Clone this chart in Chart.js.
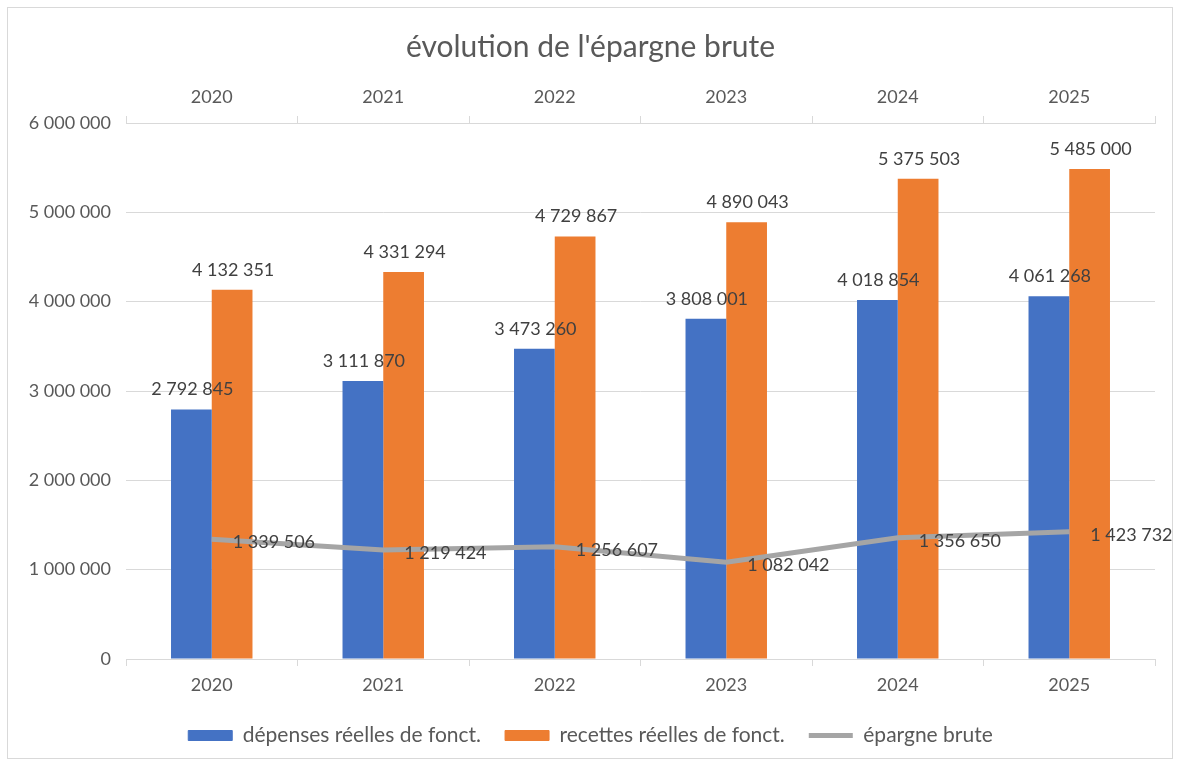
<!DOCTYPE html>
<html>
<head>
<meta charset="utf-8">
<script src="https://cdn.jsdelivr.net/npm/chart.js@4/dist/chart.umd.min.js"></script>
<style>
  html, body { margin: 0; padding: 0; background: #fff; }
  #wrap { width: 1180px; height: 764px; }
</style>
</head>
<body>
<div id="wrap"><canvas id="myChart" width="1180" height="764"></canvas></div>
<script>
// data
const years = ['2020', '2021', '2022', '2023', '2024', '2025'];
const depenses = [2792845, 3111870, 3473260, 3808001, 4018854, 4061268];
const recettes = [4132351, 4331294, 4729867, 4890043, 5375503, 5485000];
const epargne = [1339506, 1219424, 1256607, 1082042, 1356650, 1423732];

const FONT = 'Lato, "Open Sans", sans-serif';
const fmt = (v) => String(Math.round(v)).replace(/\B(?=(\d{3})+(?!\d))/g, ' ');

// white background + thin frame like the Excel chart area
const frame = {
  id: 'frame',
  beforeDraw(chart) {
    const c = chart.ctx;
    c.save();
    c.fillStyle = '#fff';
    c.fillRect(0, 0, chart.width, chart.height);
    c.strokeStyle = '#D9D9D9';
    c.lineWidth = 1;
    c.strokeRect(7.5, 7.5, 1165, 751);
    c.restore();
  }
};

// value labels: above bars, right of line points
const valueLabels = {
  id: 'valueLabels',
  afterDatasetsDraw(chart) {
    const c = chart.ctx;
    c.save();
    c.font = '18px ' + FONT;
    c.fillStyle = '#404040';
    chart.data.datasets.forEach((ds, i) => {
      const meta = chart.getDatasetMeta(i);
      meta.data.forEach((el, j) => {
        const txt = fmt(ds.data[j]);
        c.textBaseline = 'middle';
        if (ds.type === 'line') {
          c.textAlign = 'left';
          c.fillText(txt, el.x + 21, el.y + 3);
        } else {
          c.textAlign = 'center';
          c.fillText(txt, el.x + 1, el.y - 20);
        }
      });
    });
    c.restore();
  }
};

const ctx = document.getElementById('myChart').getContext('2d');
const myChart = new Chart(ctx, {
  data: {
    labels: years,
    datasets: [
      {
        type: 'bar',
        label: 'dépenses réelles de fonct.',
        data: depenses,
        backgroundColor: '#4472C4',
        order: 1
      },
      {
        type: 'bar',
        label: 'recettes réelles de fonct.',
        data: recettes,
        backgroundColor: '#ED7D31',
        order: 1
      },
      {
        type: 'line',
        label: 'épargne brute',
        data: epargne,
        borderColor: '#A5A5A5',
        backgroundColor: '#A5A5A5',
        borderWidth: 5,
        pointRadius: 0,
        tension: 0,
        order: 0
      }
    ]
  },
  options: {
    responsive: false,
    animation: false,
    devicePixelRatio: 1,
    layout: { padding: { top: 10, left: 26, right: 25, bottom: 8 } },
    datasets: {
      bar: { barPercentage: 1, categoryPercentage: 0.475 }
    },
    plugins: {
      tooltip: { enabled: false },
      title: {
        display: true,
        text: "évolution de l'épargne brute",
        color: '#595959',
        font: { family: FONT, size: 30, weight: 'normal', lineHeight: 1.2 },
        padding: { top: 19, bottom: 2 }
      },
      legend: {
        position: 'bottom',
        labels: {
          color: '#595959',
          font: { family: FONT, size: 21 },
          usePointStyle: true,
          pointStyleWidth: 44,
          boxHeight: 10,
          padding: 24,
          sort: (a, b) => a.datasetIndex - b.datasetIndex,
          generateLabels(chart) {
            return chart.data.datasets.map((ds, i) => ({
              text: ds.label,
              datasetIndex: i,
              fillStyle: ds.backgroundColor,
              strokeStyle: ds.type === 'line' ? ds.borderColor : ds.backgroundColor,
              lineWidth: ds.type === 'line' ? 5 : 1,
              pointStyle: ds.type === 'line' ? 'line' : 'rect',
              fontColor: '#595959',
              hidden: false
            }));
          }
        }
      }
    },
    scales: {
      x: {
        position: 'bottom',
        offset: true,
        grid: { drawOnChartArea: false, color: '#D9D9D9', tickLength: 7, offset: true },
        border: { display: true, color: '#D9D9D9' },
        ticks: { color: '#595959', font: { family: FONT, size: 18 }, padding: 8 },
        afterFit: (s) => { s.height = 42; }
      },
      x2: {
        type: 'category',
        position: 'top',
        labels: years,
        offset: true,
        grid: { drawOnChartArea: false, color: '#D9D9D9', tickLength: 7, offset: true },
        border: { display: true, color: '#D9D9D9' },
        ticks: { color: '#595959', font: { family: FONT, size: 18 }, padding: 8 },
        afterFit: (s) => { s.height = 56; }
      },
      y: {
        min: 0,
        max: 6000000,
        ticks: {
          stepSize: 1000000,
          color: '#595959',
          font: { family: FONT, size: 18 },
          padding: 15,
          callback: (v) => fmt(v)
        },
        grid: { color: '#D9D9D9', drawTicks: false },
        border: { display: false },
        afterFit: (s) => { s.width = 100; }
      }
    }
  },
  plugins: [frame, valueLabels]
});
</script>
</body>
</html>
